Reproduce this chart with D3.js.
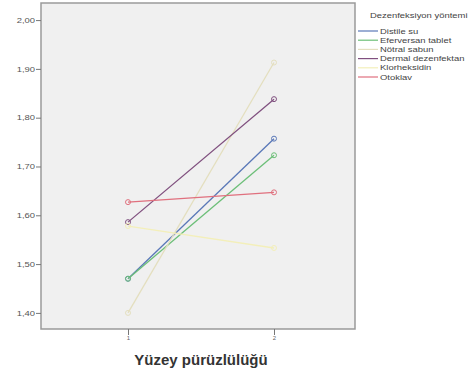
<!DOCTYPE html>
<html>
<head>
<meta charset="utf-8">
<script src="https://cdn.jsdelivr.net/npm/d3@7"></script>
<style>
  body { margin: 0; background: #fff; }
  text { font-family: Arial, "Liberation Sans", sans-serif; }
</style>
</head>
<body>
<svg id="chart" width="472" height="374"></svg>
<script>
// data
const groups = ["1", "2"];
const methods = ["Distile su", "Eferversan tablet", "Nötral sabun", "Dermal dezenfektan", "Klorheksidin", "Otoklav"];
const distile = [1.470, 1.757];
const eferversan = [1.470, 1.723];
const notral = [1.400, 1.913];
const dermal = [1.586, 1.838];
const klorheksidin = [1.578, 1.533];
const otoklav = [1.627, 1.647];
const yTicks = [1.4, 1.5, 1.6, 1.7, 1.8, 1.9, 2.0];
const colors = ["#5a78b8", "#6cbf78", "#e4dfbf", "#80507f", "#f3efba", "#e0707e"];

const series = [distile, eferversan, notral, dermal, klorheksidin, otoklav];

const svg = d3.select("#chart");
const pLeft = 41, pTop = 3, pRight = 355, pBottom = 329;
const sx = 1.35; // text in the picture is stretched sideways

let x = d3.scalePoint().domain(groups).range([128, 274]);
let y = d3.scaleLinear().domain([1.367, 2.035]).range([pBottom, pTop]);

// plot background
svg.append("rect")
  .attr("x", pLeft).attr("y", pTop)
  .attr("width", pRight - pLeft).attr("height", pBottom - pTop)
  .attr("fill", "#f0f0f0")
  .attr("stroke", "#9a9a9a")
  .attr("stroke-width", 1.5);

// y axis
const fmt = d => d3.format(".2f")(d).replace(".", ",");
const yAxis = svg.append("g")
  .attr("transform", `translate(${pLeft},0)`)
  .call(d3.axisLeft(y).tickValues(yTicks).tickFormat(fmt).tickSize(5));
yAxis.select(".domain").remove();
yAxis.selectAll("line").attr("stroke", "#777");
yAxis.selectAll("text")
  .attr("font-size", 7).attr("fill", "#555").attr("font-family", "Arial")
  .attr("x", -6 / sx).attr("transform", `scale(${sx},1)`);

// x axis
const xAxis = svg.append("g")
  .attr("transform", `translate(0,${pBottom})`)
  .call(d3.axisBottom(x).tickSize(6).tickPadding(1));
xAxis.select(".domain").remove();
xAxis.selectAll("line").attr("stroke", "#777");
xAxis.selectAll("text").attr("font-size", 6).attr("fill", "#666").attr("font-family", "Arial");

svg.append("text")
  .attr("x", 201).attr("y", 365)
  .attr("text-anchor", "middle")
  .attr("font-size", 15)
  .attr("font-weight", "bold")
  .attr("fill", "#333")
  .text("Yüzey pürüzlülüğü");

// lines
let line = d3.line()
  .x((d, i) => x(groups[i]))
  .y(d => y(d));

const plot = svg.append("g");
series.forEach((s, k) => {
  plot.append("path")
    .datum(s)
    .attr("d", line)
    .attr("fill", "none")
    .attr("stroke", colors[k])
    .attr("stroke-width", 1.3);
  plot.selectAll(null)
    .data(s)
    .join("circle")
    .attr("cx", (d, i) => x(groups[i]))
    .attr("cy", d => y(d))
    .attr("r", 2.5)
    .attr("fill", "none")
    .attr("stroke", colors[k])
    .attr("stroke-width", 1);
});

// legend
const lg = svg.append("g");
lg.append("text")
  .attr("transform", `translate(370,18) scale(${sx},1)`)
  .attr("font-size", 7)
  .attr("fill", "#444")
  .text("Dezenfeksiyon yöntemi");
methods.forEach((m, i) => {
  let yy = 31 + i * 9.2;
  lg.append("line")
    .attr("x1", 358).attr("x2", 378)
    .attr("y1", yy).attr("y2", yy)
    .attr("stroke", colors[i]).attr("stroke-width", 1.2);
  lg.append("text")
    .attr("transform", `translate(380,${yy + 2.5}) scale(${sx},1)`)
    .attr("font-size", 7)
    .attr("fill", "#444")
    .text(m);
});
</script>
</body>
</html>
